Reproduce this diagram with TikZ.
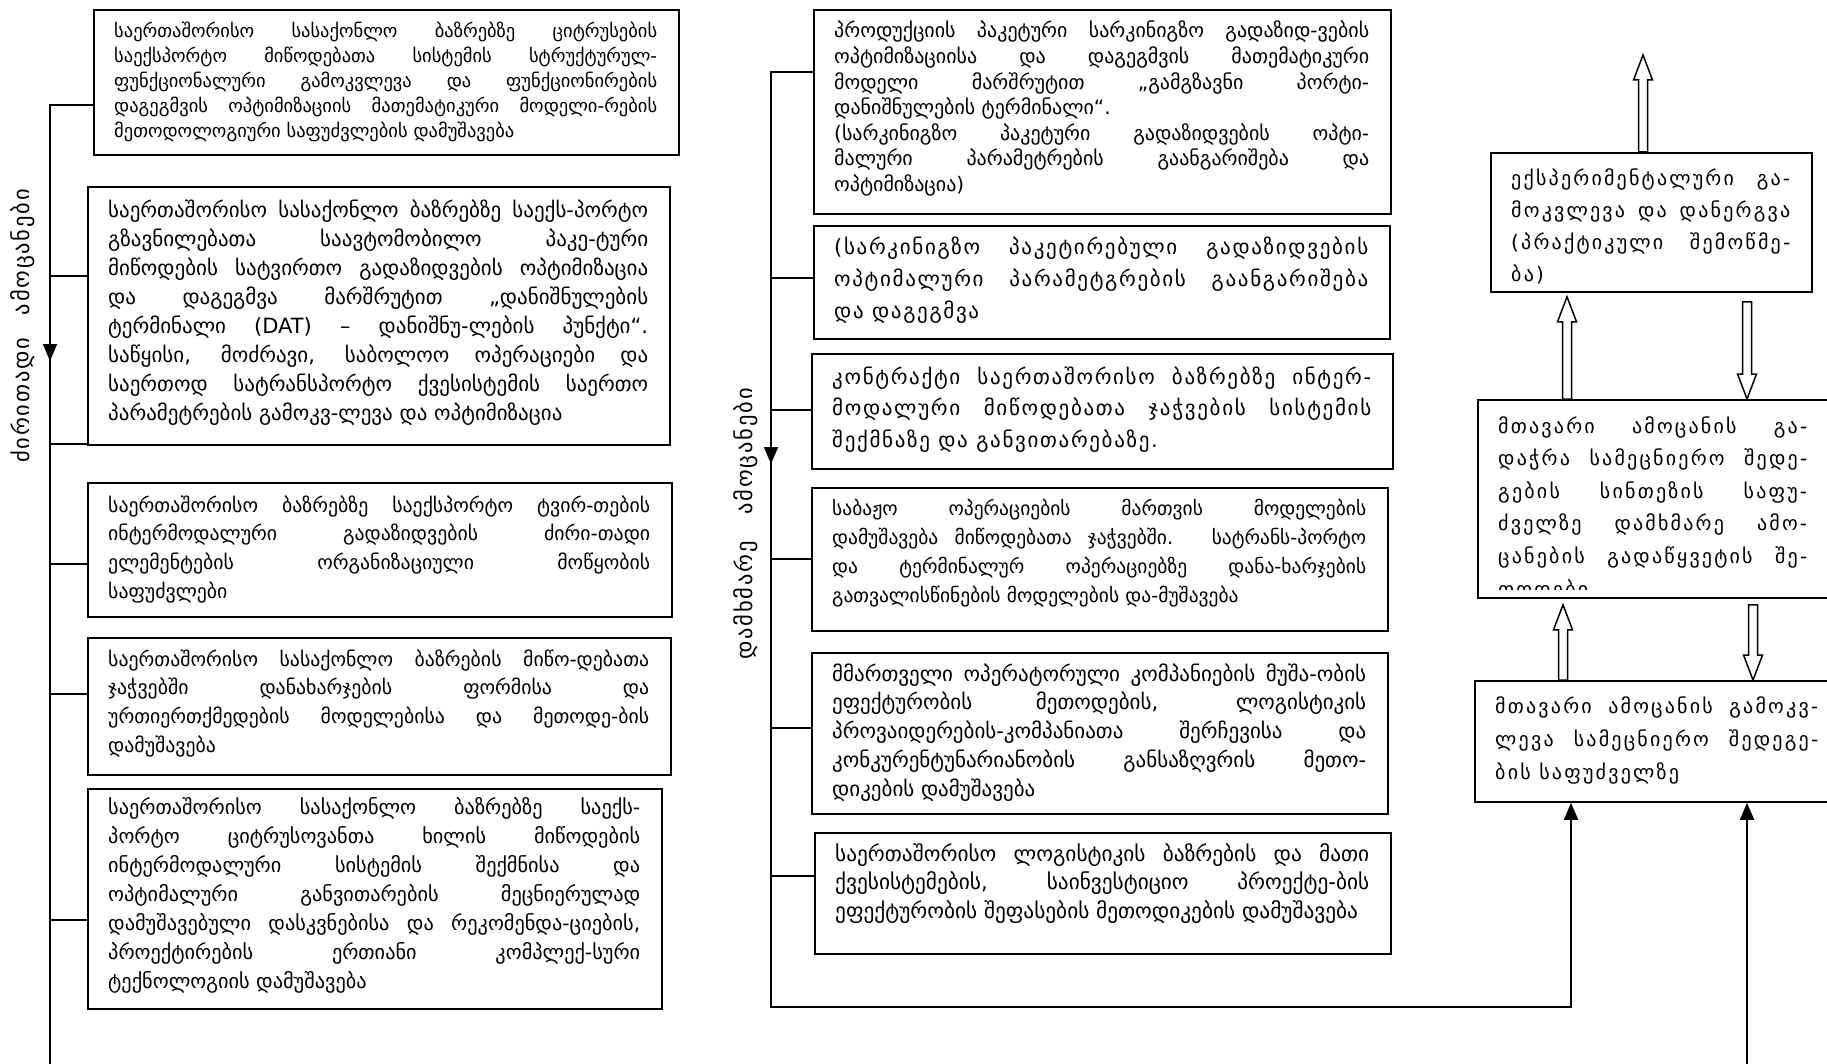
\documentclass[tikz,border=0pt]{standalone}
\usepackage{fontspec}
\setmainfont{DejaVu Sans}
\usetikzlibrary{calc,arrows.meta}
\newcommand\gfs{17}
\newcommand\gfeat{}
\newcommand\setgf[2]{\renewcommand\gfs{#1}\renewcommand\gfeat{\addfontfeature{LetterSpace=#2}}}
\tikzset{
  frame/.style={draw, line width=1.8pt, inner sep=0pt, rectangle},
  txt/.style={inner sep=0pt},
  conn/.style={line width=1.8pt},
  hollowarr/.style={draw, fill=white, line width=1.5pt, line join=miter},
  lab/.style={rotate=90, inner sep=0pt, font=\fontsize{22.5}{26}\selectfont\addfontfeature{LetterSpace=8}},
  tipd/.style={-{Triangle[width=14pt,length=17pt]}}
}
\newcommand\gfr[5]{\node[frame, minimum width=#4pt, minimum height=#5pt, anchor=north west] (#1) at (#2,#3) {};}
\newcommand\gtx[5]{\node[txt, anchor=base west] (#1t) at ($(#1.north west)+(21,#3)$) {\parbox[t]{#2pt}{\fontsize{\gfs}{#4}\selectfont\gfeat\tolerance=10000 \hyphenpenalty=10000 \exhyphenpenalty=10000 #5}};}
\newcommand\gharrow[3]{\draw[hollowarr] let \p1=(#1), \p2=(#2) in ({\x1-4.5pt},\y1) -- ({\x1-4.5pt},{\y2-(#3)*25pt}) -- ({\x1-9.5pt},{\y2-(#3)*25pt}) -- (\x1,\y2) -- ({\x1+9.5pt},{\y2-(#3)*25pt}) -- ({\x1+4.5pt},{\y2-(#3)*25pt}) -- ({\x1+4.5pt},\y1) -- cycle;}
\begin{document}
\begin{tikzpicture}[x=1pt,y=-1pt]
\useasboundingbox (0,0) rectangle (1827,1064);
\fill[white] (0,0) rectangle (1827,1064);

% ---------- left column ----------
\setgf{18.5}{0}
\gfr{b1}{93}{9}{585}{145}
\gtx{b1}{543}{29}{24.8}{საერთაშორისო სასაქონლო ბაზრებზე ციტრუსების\linebreak საექსპორტო მიწოდებათა სისტემის სტრუქტურულ-\linebreak ფუნქციონალური გამოკვლევა და ფუნქციონირების\linebreak დაგეგმვის ოპტიმიზაციის მათემატიკური მოდელი-რების\linebreak მეთოდოლოგიური საფუძვლების დამუშავება}

\setgf{21}{0}
\gfr{b2}{87}{186}{582}{258}
\gtx{b2}{540}{32}{29}{საერთაშორისო სასაქონლო ბაზრებზე საექს-პორტო\linebreak გზავნილებათა საავტომობილო პაკე-ტური\linebreak მიწოდების სატვირთო გადაზიდვების ოპტიმიზაცია\linebreak და დაგეგმვა მარშრუტით „დანიშნულების\linebreak ტერმინალი (DAT) – დანიშნუ-ლების პუნქტი“.\linebreak საწყისი, მოძრავი, საბოლოო ოპერაციები და\linebreak საერთოდ სატრანსპორტო ქვესისტემის საერთო\linebreak პარამეტრების გამოკვ-ლევა და ოპტიმიზაცია}

\setgf{19.8}{0}
\gfr{b3}{87}{482}{584}{134}
\gtx{b3}{542}{30}{28.8}{საერთაშორისო ბაზრებზე საექსპორტო ტვირ-თების\linebreak ინტერმოდალური გადაზიდვების ძირი-თადი\linebreak ელემენტების ორგანიზაციული მოწყობის\linebreak საფუძვლები}

\gfr{b4}{87}{637}{583}{137}
\gtx{b4}{541}{29}{28.8}{საერთაშორისო სასაქონლო ბაზრების მიწო-დებათა\linebreak ჯაჭვებში დანახარჯების ფორმისა და\linebreak ურთიერთქმედების მოდელებისა და მეთოდე-ბის\linebreak დამუშავება}

\setgf{20.3}{0}
\gfr{b5}{87}{788}{574}{220}
\gtx{b5}{532}{26}{29}{საერთაშორისო სასაქონლო ბაზრებზე საექს-\linebreak პორტო ციტრუსოვანთა ხილის მიწოდების\linebreak ინტერმოდალური სისტემის შექმნისა და\linebreak ოპტიმალური განვითარების მეცნიერულად\linebreak დამუშავებული დასკვნებისა და რეკომენდა-ციების,\linebreak პროექტირების ერთიანი კომპლექ-სური\linebreak ტექნოლოგიის დამუშავება}

\coordinate (L1) at (50,105);
\coordinate (L2) at (50,276);
\coordinate (L3) at (50,444);
\coordinate (L4) at (50,564);
\coordinate (L5) at (50,694);
\coordinate (L6) at (50,920);
\coordinate (Lb) at (50,1064);
\coordinate (La) at (50,361);
\draw[conn] (L1 -| b1.west) -- (L1) -- (Lb);
\draw[conn, tipd] (L1) -- (La);
\draw[conn] (L2) -- (L2 -| b2.west);
\draw[conn] (L3) -- (L3 -| b2.west);
\draw[conn] (L4) -- (L4 -| b3.west);
\draw[conn] (L5) -- (L5 -| b4.west);
\draw[conn] (L6) -- (L6 -| b5.west);
\node[lab] (lab1) at (23,326) {ძირითადი\hspace{1em}ამოცანები};

% ---------- middle column ----------
\setgf{20}{0}
\gfr{b6}{813}{9}{577}{204}
\gtx{b6}{535}{29}{25.6}{პროდუქციის პაკეტური სარკინიგზო გადაზიდ-ვების\linebreak ოპტიმიზაციისა და დაგეგმვის მათემატიკური\linebreak მოდელი მარშრუტით „გამგზავნი პორტი-\linebreak დანიშნულების ტერმინალი“.\newline (სარკინიგზო პაკეტური გადაზიდვების ოპტი-\linebreak მალური პარამეტრების გაანგარიშება და\linebreak ოპტიმიზაცია)}

\setgf{21}{8}
\gfr{b7}{813}{225}{576}{113}
\gtx{b7}{534}{30}{32}{(სარკინიგზო პაკეტირებული გადაზიდვების\linebreak ოპტიმალური პარამეტგრების გაანგარიშება\linebreak და დაგეგმვა}

\gfr{b8}{811}{353}{581}{115}
\gtx{b8}{539}{31}{31.5}{კონტრაქტი საერთაშორისო ბაზრებზე ინტერ-\linebreak მოდალური მიწოდებათა ჯაჭვების სისტემის\linebreak შექმნაზე და განვითარებაზე.}

\setgf{19.5}{0}
\gfr{b9}{811}{487}{576}{143}
\gtx{b9}{534}{28}{29}{საბაჟო ოპერაციების მართვის მოდელების\linebreak დამუშავება მიწოდებათა ჯაჭვებში. სატრანს-პორტო\linebreak და ტერმინალურ ოპერაციებზე დანა-ხარჯების\linebreak გათვალისწინების მოდელების და-მუშავება}

\setgf{21}{0}
\gfr{b10}{811}{652}{576}{161}
\gtx{b10}{534}{29}{28.8}{მმართველი ოპერატორული კომპანიების მუშა-ობის\linebreak ეფექტურობის მეთოდების, ლოგისტიკის\linebreak პროვაიდერების-კომპანიათა შერჩევისა და\linebreak კონკურენტუნარიანობის განსაზღვრის მეთო-\linebreak დიკების დამუშავება}

\setgf{21.3}{0}
\gfr{b11}{814}{832}{576}{121}
\gtx{b11}{534}{29}{28.5}{საერთაშორისო ლოგისტიკის ბაზრების და მათი\linebreak ქვესისტემების, საინვესტიციო პროექტე-ბის\linebreak ეფექტურობის შეფასების მეთოდიკების დამუშავება}

\coordinate (M1) at (771,72);
\coordinate (M2) at (771,278);
\coordinate (M3) at (771,410);
\coordinate (M4) at (771,559);
\coordinate (M5) at (771,728);
\coordinate (M6) at (771,876);
\coordinate (Ma) at (771,464);
\coordinate (Mb) at (771,1007);
\coordinate (Xa) at (1571,1007);
\coordinate (Xb) at (1747,1064);

\draw[conn] (M2) -- (M2 -| b7.west);
\draw[conn] (M3) -- (M3 -| b8.west);
\draw[conn] (M4) -- (M4 -| b9.west);
\draw[conn] (M5) -- (M5 -| b10.west);
\draw[conn] (M6) -- (M6 -| b11.west);
\draw[conn, tipd] (M1) -- (Ma);
\node[lab] (lab2) at (746,524) {დამხმარე\hspace{1.2em}ამოცანები};

% ---------- right column ----------
\setgf{20}{11}
\gfr{b12}{1490}{152}{321}{139}
\gfr{b13}{1477}{399}{370}{198}
\gfr{b14}{1474}{680}{370}{121}
\begin{scope}
\clip (1480,155) rectangle (1808,285);
\gtx{b12}{279}{34}{32}{ექსპერიმენტალური გა-\linebreak მოკვლევა და დანერგვა\linebreak (პრაქტიკული შემოწმე-\linebreak ბა)}
\end{scope}
\begin{scope}
\clip (1480,402) rectangle (1827,589);
\gtx{b13}{309}{34}{32.6}{მთავარი ამოცანის გა-\linebreak დაჭრა სამეცნიერო შედე-\linebreak გების სინთეზის საფუ-\linebreak ძველზე დამხმარე ამო-\linebreak ცანების გადაწყვეტის შე-\linebreak თოდები}
\end{scope}
\gtx{b14}{323}{33}{33}{მთავარი ამოცანის გამოკვ-\linebreak ლევა სამეცნიერო შედეგე-\linebreak ბის საფუძველზე}

\draw[conn, tipd] (M1 -| b6.west) -- (M1) -- (Mb) -- (Xa) -- (Xa |- b14.south);
\draw[conn, tipd] (Xb) -- (Xb |- b14.south);

\coordinate (xA1) at (1643,55);
\coordinate (xA2) at (1567,0);
\coordinate (xA3) at (1747,0);
\coordinate (xA4) at (1563,0);
\coordinate (xA5) at (1753,0);
\gharrow{xA1 |- b12.north}{xA1}{1}
\gharrow{xA2 |- b13.north}{$(xA2 |- b12.south)+(0,4)$}{1}
\gharrow{$(xA3 |- b12.south)+(0,9)$}{xA3 |- b13.north}{-1}
\gharrow{xA4 |- b14.north}{$(xA4 |- b13.south)+(0,6)$}{1}
\gharrow{$(xA5 |- b13.south)+(0,6)$}{xA5 |- b14.north}{-1}
\end{tikzpicture}
\end{document}
